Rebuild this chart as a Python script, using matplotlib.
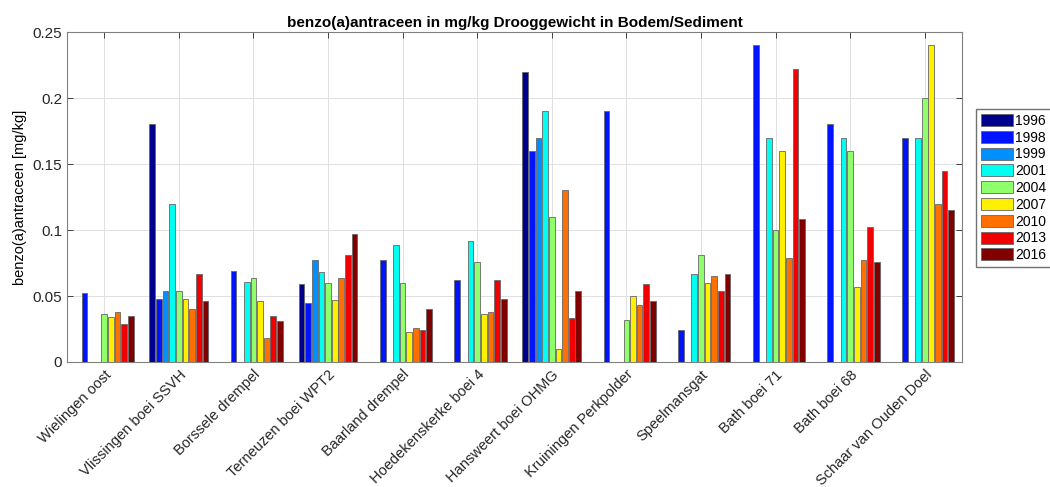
import matplotlib.pyplot as plt
import numpy as np

plt.rcParams['font.family'] = ['Liberation Sans', 'DejaVu Sans']

locations = ["Wielingen oost", "Vlissingen boei SSVH", "Borssele drempel",
             "Terneuzen boei WPT2", "Baarland drempel", "Hoedekenskerke boei 4",
             "Hansweert boei OHMG", "Kruiningen Perkpolder", "Speelmansgat",
             "Bath boei 71", "Bath boei 68", "Schaar van Ouden Doel"]
years = ["1996", "1998", "1999", "2001", "2004", "2007", "2010", "2013", "2016"]
nan = np.nan

# one list per year, values per location (nan = no measurement)
v1996 = [nan, 0.180, nan, 0.059, nan, nan, 0.220, nan, nan, nan, nan, nan]
v1998 = [0.052, 0.048, 0.069, 0.045, 0.077, 0.062, 0.160, 0.190, 0.024, 0.240, 0.180, 0.170]
v1999 = [nan, 0.054, nan, 0.077, nan, nan, 0.170, nan, nan, nan, nan, nan]
v2001 = [nan, 0.120, 0.061, 0.068, 0.089, 0.092, 0.190, nan, 0.067, 0.170, 0.170, 0.170]
v2004 = [0.036, 0.054, 0.064, 0.060, 0.060, 0.076, 0.110, 0.032, 0.081, 0.100, 0.160, 0.200]
v2007 = [0.034, 0.048, 0.046, 0.047, 0.023, 0.036, 0.010, 0.050, 0.060, 0.160, 0.057, 0.240]
v2010 = [0.038, 0.040, 0.018, 0.064, 0.026, 0.038, 0.130, 0.043, 0.065, 0.079, 0.077, 0.120]
v2013 = [0.029, 0.067, 0.035, 0.081, 0.024, 0.062, 0.033, 0.059, 0.054, 0.222, 0.102, 0.145]
v2016 = [0.035, 0.046, 0.031, 0.097, 0.040, 0.048, 0.054, 0.046, 0.067, 0.108, 0.076, 0.115]
series = [v1996, v1998, v1999, v2001, v2004, v2007, v2010, v2013, v2016]

colors = [(0, 0, 0.56), (0, 0.08, 1), (0, 0.56, 1), (0, 1, 0.94), (0.56, 1, 0.42),
          (1, 0.94, 0), (1, 0.44, 0), (0.94, 0, 0), (0.5, 0, 0)]

fig = plt.figure(figsize=(10.5, 4.87), dpi=100)
ax = fig.add_axes([0.0638, 0.2567, 0.8524, 0.6773])

x = np.arange(1, len(locations) + 1)
slot = 0.8 / len(years)
for i, (vals, yr, c) in enumerate(zip(series, years, colors)):
    offs = (i - (len(years) - 1) / 2) * slot
    ax.bar(x + offs, np.nan_to_num(np.array(vals, dtype=float)), width=slot * 0.86,
           color=c, edgecolor='0.4', linewidth=0.6, label=yr, zorder=3)

ax.set_xlim(0.5, len(locations) + 0.5)
ax.set_ylim(0, 0.25)
ax.set_yticks([0, 0.05, 0.1, 0.15, 0.2, 0.25])
ax.set_yticklabels(["0", "0.05", "0.1", "0.15", "0.2", "0.25"])
ax.set_xticks(x)
ax.set_xticklabels(locations, rotation=45, ha='right', rotation_mode='anchor')
ax.tick_params(direction='in', top=True, right=True, labelsize=11, colors='0.15',
               length=4, width=0.6)
ax.tick_params(axis='x', labelsize=10.5, pad=4)
ax.grid(True, color='0.88', linewidth=0.7, zorder=0)
for s in ax.spines.values():
    s.set_color('0.5')
    s.set_linewidth(0.8)

ax.set_ylabel("benzo(a)antraceen [mg/kg]", fontsize=10.5)
ax.set_title("benzo(a)antraceen in mg/kg Drooggewicht in Bodem/Sediment",
             fontsize=11, fontweight='bold', pad=4)

ax.legend(loc='upper left', bbox_to_anchor=(1.016, 0.767), fontsize=10,
          frameon=True, fancybox=False, edgecolor='0.3', handlelength=2.3,
          handleheight=0.95, labelspacing=0.2, handletextpad=0.15, borderpad=0.35,
          borderaxespad=0)

fig.savefig("out.png", dpi=100)
